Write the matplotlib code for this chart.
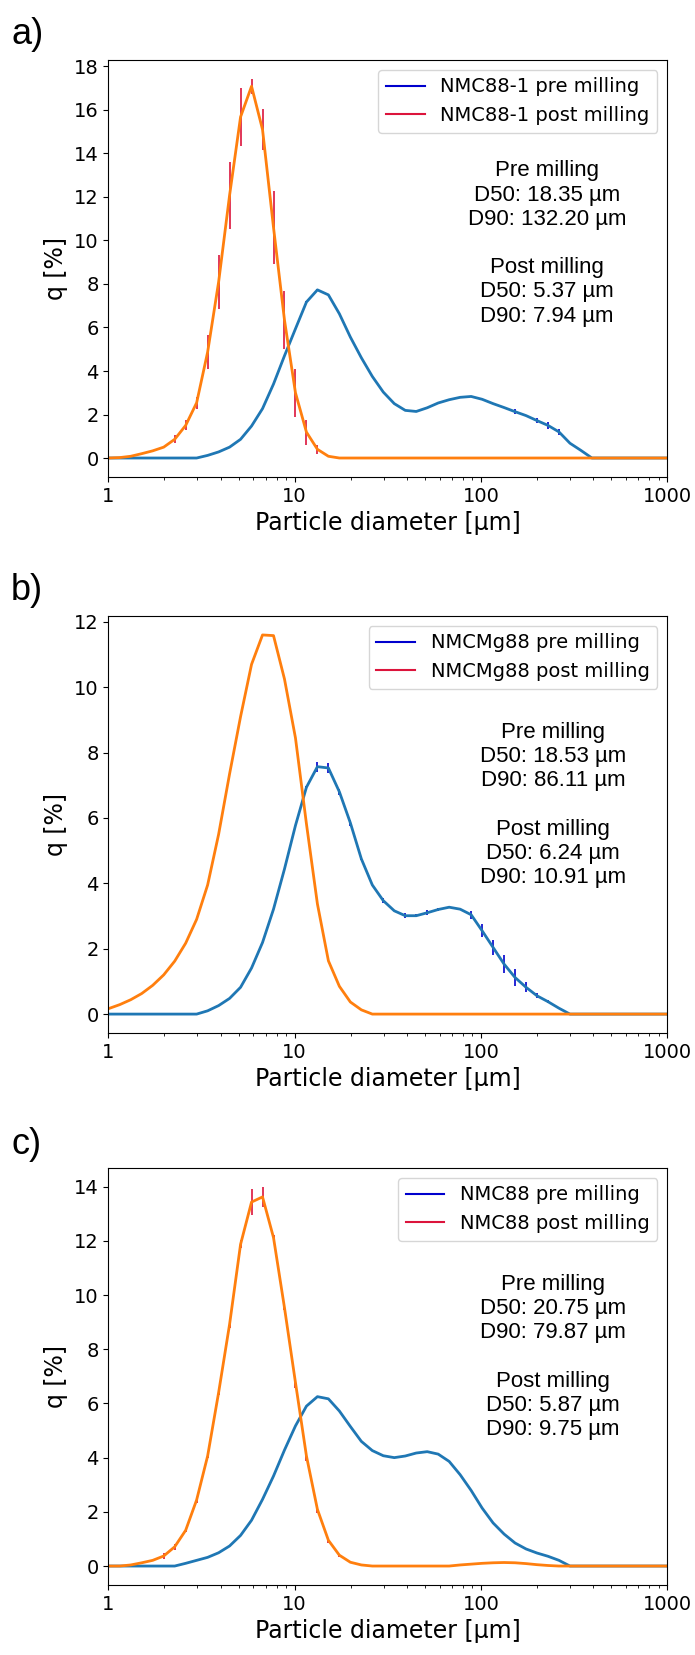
import matplotlib
matplotlib.use("Agg")
import matplotlib.pyplot as plt
from matplotlib.lines import Line2D
from matplotlib.ticker import FixedLocator, FixedFormatter, MultipleLocator
import numpy as np

# particle size classes [um]
sizes = [0.877, 1.005, 1.151, 1.318, 1.510, 1.729, 1.981, 2.269, 2.599, 2.976,
         3.409, 3.905, 4.472, 5.122, 5.867, 6.720, 7.697, 8.816, 10.097, 11.565,
         13.246, 15.172, 17.377, 19.904, 22.797, 26.111, 29.907, 34.255, 39.234, 44.938,
         51.471, 58.953, 67.523, 77.339, 88.583, 101.46, 116.21, 133.10, 152.45, 174.62,
         200.00, 229.08, 262.38, 300.52, 344.21, 394.24, 451.56, 517.20, 592.39, 678.50,
         777.14, 890.12, 1019.5]

# a) NMC88-1
pre_a = [0, 0, 0, 0, 0, 0, 0, 0, 0, 0,
         0.12, 0.28, 0.5, 0.86, 1.47, 2.27, 3.4, 4.7, 5.94, 7.17,
         7.73, 7.5, 6.63, 5.56, 4.61, 3.75, 3.03, 2.5, 2.19, 2.14,
         2.31, 2.53, 2.68, 2.79, 2.83, 2.7, 2.5, 2.32, 2.13, 1.95,
         1.72, 1.5, 1.2, 0.68, 0.35, 0, 0, 0, 0, 0,
         0, 0, 0]
pre_a_err = [0, 0, 0, 0, 0, 0, 0, 0, 0, 0,
             0, 0, 0, 0, 0, 0, 0, 0, 0, 0.03,
             0.03, 0.02, 0, 0, 0, 0, 0, 0, 0, 0,
             0, 0, 0, 0, 0, 0, 0, 0, 0.12, 0,
             0.13, 0.15, 0.15, 0, 0, 0, 0, 0, 0, 0,
             0, 0, 0]
post_a = [0, 0, 0.02, 0.08, 0.2, 0.33, 0.5, 0.86, 1.5, 2.54,
          4.87, 8.09, 12.08, 15.68, 17.09, 15.1, 10.6, 6.34, 3.0, 1.19,
          0.4, 0.08, 0, 0, 0, 0, 0, 0, 0, 0,
          0, 0, 0, 0, 0, 0, 0, 0, 0, 0,
          0, 0, 0, 0, 0, 0, 0, 0, 0, 0,
          0, 0, 0]
post_a_err = [0, 0, 0, 0, 0, 0, 0, 0.19, 0.23, 0.27,
              0.77, 1.23, 1.55, 1.32, 0.34, 0.96, 1.68, 1.32, 1.1, 0.57,
              0.22, 0, 0, 0, 0, 0, 0, 0, 0, 0,
              0, 0, 0, 0, 0, 0, 0, 0, 0, 0,
              0, 0, 0, 0, 0, 0, 0, 0, 0, 0,
              0, 0, 0]

# b) NMCMg88
pre_b = [0, 0, 0, 0, 0, 0, 0, 0, 0, 0,
         0.1, 0.26, 0.48, 0.82, 1.41, 2.19, 3.21, 4.44, 5.77, 6.94,
         7.57, 7.53, 6.8, 5.85, 4.75, 3.95, 3.47, 3.16, 3.01, 3.01,
         3.1, 3.2, 3.27, 3.21, 3.04, 2.55, 2.04, 1.53, 1.12, 0.82,
         0.56, 0.38, 0.18, 0, 0, 0, 0, 0, 0, 0,
         0, 0, 0]
pre_b_err = [0, 0, 0, 0, 0, 0, 0, 0, 0, 0,
             0, 0, 0, 0, 0, 0, 0, 0, 0, 0.05,
             0.15, 0.15, 0.1, 0.1, 0.05, 0, 0.08, 0, 0.08, 0.05,
             0.08, 0.05, 0, 0, 0.12, 0.2, 0.23, 0.28, 0.25, 0.15,
             0.08, 0.05, 0, 0, 0, 0, 0, 0, 0, 0,
             0, 0, 0]
post_b = [0.1, 0.17, 0.29, 0.44, 0.63, 0.88, 1.2, 1.62, 2.17, 2.9,
          3.95, 5.5, 7.35, 9.1, 10.7, 11.6, 11.58, 10.25, 8.45, 5.82,
          3.37, 1.63, 0.85, 0.37, 0.13, 0, 0, 0, 0, 0,
          0, 0, 0, 0, 0, 0, 0, 0, 0, 0,
          0, 0, 0, 0, 0, 0, 0, 0, 0, 0,
          0, 0, 0]
post_b_err = [0] * 53

# c) NMC88
pre_c = [0, 0, 0, 0, 0, 0, 0, 0, 0.1, 0.21,
         0.32, 0.49, 0.74, 1.13, 1.69, 2.46, 3.32, 4.28, 5.17, 5.9,
         6.25, 6.17, 5.72, 5.15, 4.6, 4.26, 4.07, 4.0, 4.06, 4.17,
         4.22, 4.13, 3.86, 3.37, 2.79, 2.14, 1.59, 1.18, 0.85, 0.63,
         0.48, 0.36, 0.21, 0, 0, 0, 0, 0, 0, 0,
         0, 0, 0]
pre_c_err = [0, 0, 0, 0, 0, 0, 0, 0, 0, 0,
             0, 0, 0, 0, 0, 0, 0, 0, 0, 0,
             0, 0, 0, 0, 0, 0, 0, 0, 0, 0,
             0.03, 0, 0, 0, 0.03, 0, 0.05, 0, 0, 0,
             0, 0, 0, 0, 0, 0, 0, 0, 0, 0,
             0, 0, 0]
post_c = [0, 0, 0, 0.04, 0.12, 0.21, 0.37, 0.71, 1.32, 2.44,
          4.06, 6.4, 8.92, 11.87, 13.43, 13.62, 12.12, 9.53, 6.77, 4.06,
          2.09, 0.95, 0.4, 0.14, 0.04, 0, 0, 0, 0, 0,
          0, 0, 0, 0.04, 0.07, 0.1, 0.12, 0.13, 0.12, 0.09,
          0.05, 0.02, 0, 0, 0, 0, 0, 0, 0, 0,
          0, 0, 0]
post_c_err = [0, 0, 0, 0, 0, 0, 0.1, 0.1, 0.08, 0.1,
              0.08, 0.1, 0.15, 0.15, 0.47, 0.37, 0.1, 0.1, 0.2, 0.2,
              0.15, 0.1, 0.05, 0, 0, 0, 0, 0, 0, 0,
              0, 0, 0, 0.03, 0.03, 0.03, 0.03, 0.03, 0.03, 0.03,
              0, 0, 0, 0, 0, 0, 0, 0, 0, 0,
              0, 0, 0]

panels = [
    ("a)", "NMC88-1", pre_a, pre_a_err, post_a, post_a_err,
     "Pre milling\nD50: 18.35 µm\nD90: 132.20 µm\n\nPost milling\nD50: 5.37 µm\nD90: 7.94 µm", 0.785, 0.56),
    ("b)", "NMCMg88", pre_b, pre_b_err, post_b, post_b_err,
     "Pre milling\nD50: 18.53 µm\nD90: 86.11 µm\n\nPost milling\nD50: 6.24 µm\nD90: 10.91 µm", 0.796, 0.547),
    ("c)", "NMC88", pre_c, pre_c_err, post_c, post_c_err,
     "Pre milling\nD50: 20.75 µm\nD90: 79.87 µm\n\nPost milling\nD50: 5.87 µm\nD90: 9.75 µm", 0.796, 0.547),
]

fig = plt.figure(figsize=(6.95, 16.55), dpi=100)
bottoms = [0.7118, 0.3758, 0.0423]
tops_px = [60, 616, 1169]

for (tag, name, pre, pre_err, post, post_err, txt, tx, ty), b, tp in zip(panels, bottoms, tops_px):
    ax = fig.add_axes([0.156, b, 0.804, 0.252])
    ax.errorbar(sizes, pre, yerr=pre_err, color="tab:blue", ecolor="mediumblue",
                lw=2, elinewidth=1.2)
    ax.errorbar(sizes, post, yerr=post_err, color="tab:orange", ecolor="crimson",
                lw=2, elinewidth=1.2)
    ax.set_xscale("log")
    ax.set_xlim(1, 1000)
    ax.xaxis.set_major_locator(FixedLocator([1, 10, 100, 1000]))
    ax.xaxis.set_major_formatter(FixedFormatter(["1", "10", "100", "1000"]))
    ax.yaxis.set_major_locator(MultipleLocator(2))
    ax.tick_params(labelsize=14)
    ax.set_xlabel("Particle diameter [µm]", fontsize=17)
    ax.set_ylabel("q [%]", fontsize=17)
    handles = [Line2D([], [], color="mediumblue", lw=1.5),
               Line2D([], [], color="crimson", lw=1.5)]
    ax.legend(handles, [name + " pre milling", name + " post milling"],
              loc="upper right", fontsize=14)
    ax.text(tx, ty, txt, transform=ax.transAxes, ha="center", va="center",
            fontsize=16, family="Liberation Sans", linespacing=1.2)
    fig.text(0.016, 1 - (tp - 25) / 1655, tag, ha="left", va="center",
             fontsize=26, family="Liberation Sans")

fig.savefig("out.png", dpi=100)
